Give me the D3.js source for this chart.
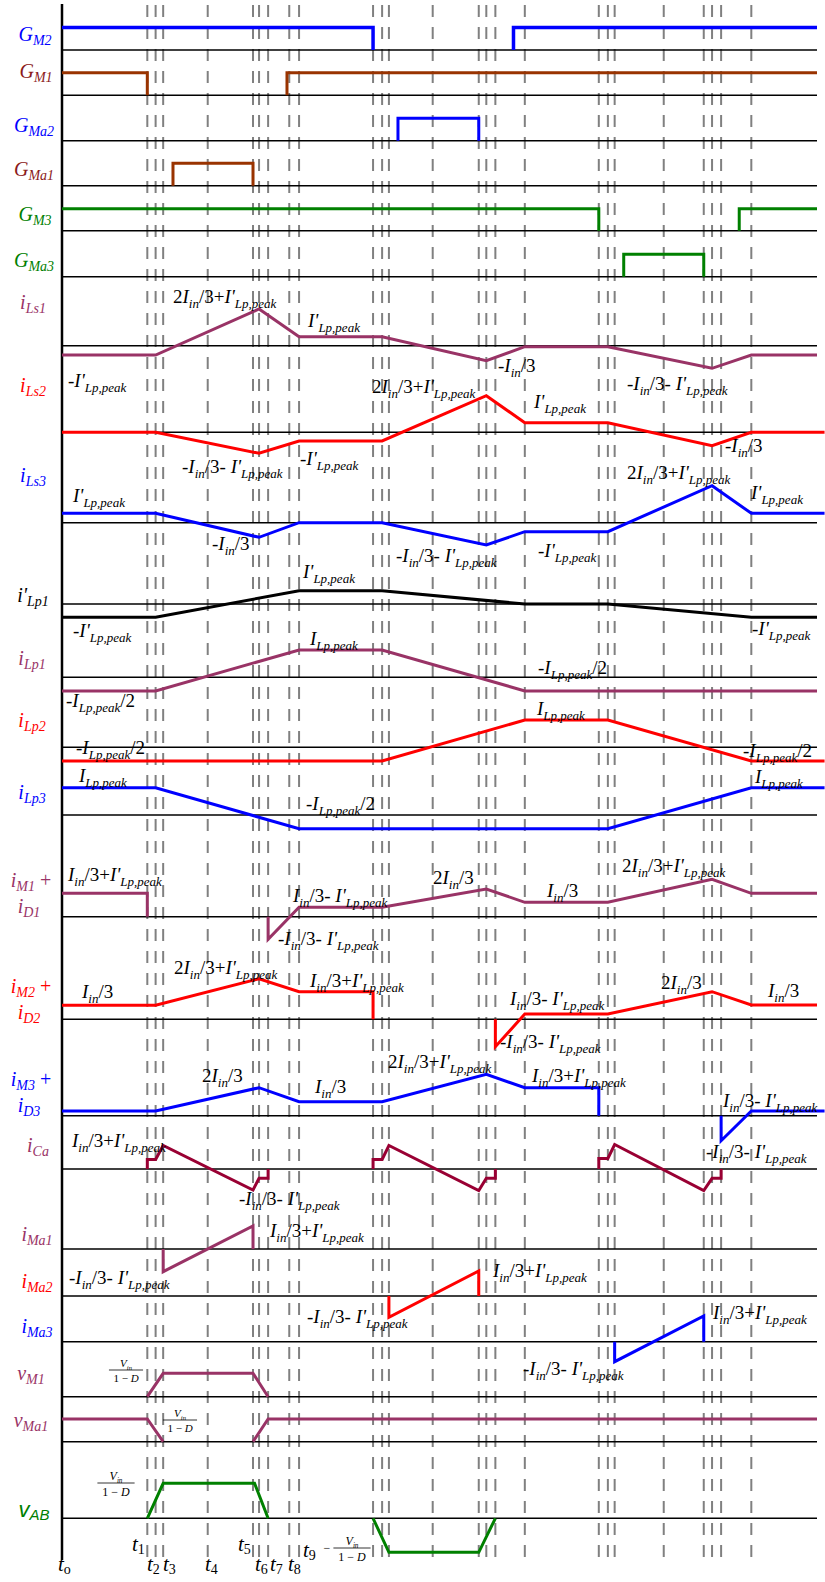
<!DOCTYPE html>
<html>
<head>
<meta charset="utf-8">
<script src="https://cdnjs.cloudflare.com/ajax/libs/d3/7.8.5/d3.min.js"></script>
<style>
  body { margin: 0; background: #fff; }
  svg { display: block; }
  text { white-space: pre; }
</style>
</head>
<body>
<svg id="chart" width="825" height="1582"></svg>
<script>
// time axis runs 0..100 (one switching period + a bit), values are in arbitrary units

// switching instants (dashed guides)
var tEvents = [11.3, 12.4, 13.4, 19.3, 25.3, 26.1, 27.3, 30.1, 31.4, 41.2, 42.4, 43.3,
               49.1, 55.2, 56.2, 57.4, 61.3, 71.1, 72.3, 73.2, 79.7, 85.0, 86.1, 87.3, 91.3];

// gate signals (1 = on)
var gM2  = [[0,1],[41.2,1],[41.2,0],null,[59.8,0],[59.8,1],[100,1]];
var gM1  = [[0,1],[11.3,1],[11.3,0],null,[29.8,0],[29.8,1],[100,1]];
var gMa2 = [[44.5,0],[44.5,1],[55.2,1],[55.2,0]];
var gMa1 = [[14.7,0],[14.7,1],[25.3,1],[25.3,0]];
var gM3  = [[0,1],[71.1,1],[71.1,0],null,[89.7,0],[89.7,1],[100,1]];
var gMa3 = [[74.4,0],[74.4,1],[85.0,1],[85.0,0]];

// currents
var iLs1 = [[0,-0.93],[12.4,-0.93],[26.1,3.67],[31.4,0.9],[42.4,0.9],[56.2,-1.5],[61.3,-0.1],[72.3,-0.1],[86.1,-2.26],[91.3,-0.93],[100,-0.93]];
var iLs2 = [[0,0],[12.4,0],[26.1,-2.1],[31.4,-0.87],[42.4,-0.87],[56.2,3.66],[61.3,0.96],[72.3,0.96],[86.1,-1.34],[91.3,0],[101,0]];
var iLs3 = [[0,0.94],[12.4,0.94],[26.1,-1.46],[31.4,0],[42.4,0],[56.2,-2.23],[61.3,-0.9],[72.3,-0.9],[86.1,3.7],[91.3,0.94],[101,0.94]];
var iLp1p = [[0,-1.33],[12.4,-1.33],[31.4,1.33],[42.4,1.33],[61.3,0],[72.3,0],[91.3,-1.33],[100,-1.33]];
var iLp1 = [[0,-1.36],[12.4,-1.36],[31.4,2.73],[42.4,2.73],[61.3,-1.36],[100,-1.36]];
var iLp2 = [[0,-1.36],[42.4,-1.36],[61.3,2.73],[72.3,2.73],[91.3,-1.36],[101,-1.36]];
var iLp3 = [[0,2.73],[12.4,2.73],[31.4,-1.37],[72.3,-1.37],[91.3,2.73],[101,2.73]];
var iM1D1 = [[0,2.34],[11.3,2.34],[11.3,0],null,[27.3,0],[27.3,-2.26],[31.4,0.94],[42.4,0.94],[56.2,2.77],[61.3,1.44],[72.3,1.44],[86.1,3.74],[91.3,2.34],[100,2.34]];
var iM2D2 = [[0,1.4],[12.4,1.4],[26.1,4.06],[31.4,2.76],[41.2,2.76],[41.2,0],null,[57.4,0],[57.4,-2.74],[61.3,0.53],[72.3,0.53],[86.1,2.76],[91.3,1.43],[100,1.43]];
var iM3D3 = [[0,0.47],[12.4,0.47],[26.1,2.8],[31.4,1.4],[42.4,1.4],[56.2,4.14],[61.3,2.8],[71.1,2.8],[71.1,0],null,[87.3,0],[87.3,-2.5],[91.3,0.47],[101,0.47]];
var iCa = [[11.3,0],[11.3,0.95],[12.4,0.95],[13.4,2.35],[25.3,-2.1],[26.1,-0.93],[27.3,-0.93],[27.3,0],null,
           [41.2,0],[41.2,0.95],[42.4,0.95],[43.3,2.35],[55.2,-2.15],[56.2,-0.93],[57.4,-0.93],[57.4,0],null,
           [71.1,0],[71.1,1.05],[72.3,1.05],[73.2,2.45],[85.0,-2.15],[86.1,-0.93],[87.3,-0.93],[87.3,0]];
var iMa1 = [[13.4,0],[13.4,-2.27],[25.3,2.3],[25.3,0]];
var iMa2 = [[43.3,0],[43.3,-2.13],[55.2,2.5],[55.2,0]];
var iMa3 = [[73.2,0],[73.2,-2.0],[85.0,2.57],[85.0,0]];

// voltages
var vM1  = [[11.3,0],[13.4,2.34],[25.3,2.34],[27.3,0]];
var vMa1 = [[0,2.27],[11.3,2.27],[13.4,0],null,[25.3,0],[27.3,2.27],[100,2.27]];
var vAB  = [[11.3,0],[13.4,3.5],[25.5,3.5],[27.3,0],null,[41.2,0],[43.3,-3.4],[55.2,-3.4],[57.4,0]];

// time tick labels
var tLabels = ["o","1","2","3","4","5","6","7","8","9"];

// ---- layout ----
var svg = d3.select("#chart");
svg.append("rect").attr("width", 825).attr("height", 1582).attr("fill", "#fff");

var x = d3.scaleLinear().domain([0, 100]).range([62, 817]);

var purple = "#993366", red = "#ff0000", blue = "#0000ff", green = "#008000",
    brown = "#993300", crimson = "#990033", dred = "#8b1a1a";

var rows = [
  {data: gM2,  base: 50,    unit: 22.5, color: blue,  w: 3.5},
  {data: gM1,  base: 95.3,  unit: 22.5, color: brown, w: 3},
  {data: gMa2, base: 140.7, unit: 22.5, color: blue,  w: 3},
  {data: gMa1, base: 185.7, unit: 22.5, color: brown, w: 3},
  {data: gM3,  base: 230.7, unit: 22,   color: green, w: 3},
  {data: gMa3, base: 276.7, unit: 22.5, color: green, w: 3},
  {data: iLs1, base: 345.7, unit: 10, color: purple, w: 3},
  {data: iLs2, base: 432.3, unit: 10, color: red,    w: 3},
  {data: iLs3, base: 522.7, unit: 10, color: blue,   w: 3},
  {data: iLp1p,base: 604,   unit: 10, color: "#000", w: 3},
  {data: iLp1, base: 677.3, unit: 10, color: purple, w: 3},
  {data: iLp2, base: 747.3, unit: 10, color: red,    w: 3},
  {data: iLp3, base: 815,   unit: 10, color: blue,   w: 3},
  {data: iM1D1,base: 916.7, unit: 10, color: purple, w: 3},
  {data: iM2D2,base: 1019.3,unit: 10, color: red,    w: 3},
  {data: iM3D3,base: 1115.7,unit: 10, color: blue,   w: 3},
  {data: iCa,  base: 1169,  unit: 10, color: crimson,w: 3},
  {data: iMa1, base: 1249,  unit: 10, color: purple, w: 3},
  {data: iMa2, base: 1296,  unit: 10, color: red,    w: 3},
  {data: iMa3, base: 1341.7,unit: 10, color: blue,   w: 3},
  {data: vM1,  base: 1396.7,unit: 10, color: purple, w: 3},
  {data: vMa1, base: 1441.7,unit: 10, color: purple, w: 3},
  {data: vAB,  base: 1518.3,unit: 10, color: green,  w: 3}
];

// dashed guides
svg.append("g").selectAll("line").data(tEvents).enter().append("line")
  .attr("x1", function(d) { return x(d); }).attr("x2", function(d) { return x(d); })
  .attr("y1", 5).attr("y2", 1562)
  .attr("stroke", "#808080").attr("stroke-width", 2)
  .attr("stroke-dasharray", "12,10");

// baselines
svg.append("g").selectAll("line").data(rows).enter().append("line")
  .attr("x1", 61).attr("x2", x(100))
  .attr("y1", function(d) { return d.base; }).attr("y2", function(d) { return d.base; })
  .attr("stroke", "#000").attr("stroke-width", 1.6);

// vertical axis
svg.append("line").attr("x1", 62).attr("x2", 62).attr("y1", 4).attr("y2", 1560)
  .attr("stroke", "#000").attr("stroke-width", 2.5);

// waveforms
rows.forEach(function(r) {
  var y = d3.scaleLinear().domain([0, 1]).range([r.base, r.base - r.unit]);
  var line = d3.line().defined(function(d) { return d != null; })
    .x(function(d) { return x(d[0]); }).y(function(d) { return y(d[1]); });
  svg.append("path").datum(r.data).attr("d", line)
    .attr("fill", "none").attr("stroke", r.color).attr("stroke-width", r.w);
});

// rich text: "_{...}" = subscript, letters italic
var serif = "'Liberation Serif','Times New Roman',serif";
function rich(str, px, py, opt) {
  opt = opt || {};
  var size = opt.size || 18, sub = opt.sub || size * 0.68,
      shift = opt.shift != null ? opt.shift : size * 0.26;
  var t = svg.append("text").attr("x", px).attr("y", py)
    .attr("fill", opt.color || "#000").attr("font-family", opt.font || serif)
    .attr("font-size", size).attr("text-anchor", opt.anchor || "start");
  var down = false, last = 0, m, re = /_\{([^}]*)\}/g;
  function main(s) {
    s.split(/([A-Za-z']+)/).forEach(function(p) {
      if (!p) return;
      var ts = t.append("tspan").text(p)
        .attr("font-style", /[A-Za-z']/.test(p) && opt.italic !== false ? "italic" : "normal");
      if (down) { ts.attr("dy", -shift); down = false; }
    });
  }
  while ((m = re.exec(str))) {
    main(str.slice(last, m.index));
    var ts = t.append("tspan").text(m[1]).attr("font-size", sub)
      .attr("font-style", opt.subItalic === false ? "normal" : "italic");
    if (!down) ts.attr("dy", shift);
    down = true;
    last = re.lastIndex;
  }
  main(str.slice(last));
  return t;
}

// channel names
var names = [
  ["G_{M2}", 35, 41, blue], ["G_{M1}", 36, 78, dred], ["G_{Ma2}", 34, 132, blue],
  ["G_{Ma1}", 34, 176, dred], ["G_{M3}", 35, 221, green], ["G_{Ma3}", 34, 267, green],
  ["i_{Ls1}", 33, 309, purple], ["i_{Ls2}", 33, 392, red], ["i_{Ls3}", 33, 482, blue],
  ["i'_{Lp1}", 33, 602, "#000"], ["i_{Lp1}", 32, 665, purple], ["i_{Lp2}", 32, 727, red],
  ["i_{Lp3}", 32, 799, blue],
  ["i_{M1} +", 31, 887, purple], ["i_{D1}", 29, 913, purple],
  ["i_{M2} +", 31, 993, red], ["i_{D2}", 29, 1019, red],
  ["i_{M3} +", 31, 1086, blue], ["i_{D3}", 29, 1112, blue],
  ["i_{Ca}", 38, 1152, purple], ["i_{Ma1}", 37, 1241, purple], ["i_{Ma2}", 37, 1288, red],
  ["i_{Ma3}", 37, 1333, blue], ["v_{M1}", 31, 1380, purple], ["v_{Ma1}", 31, 1427, purple]
];
names.forEach(function(n) {
  rich(n[0], n[1], n[2], {size: 20, sub: 14, color: n[3], anchor: "middle", shift: 4});
});
rich("v_{AB}", 34, 1517, {size: 22, sub: 15, color: green, anchor: "middle", shift: 3,
  font: "'Liberation Sans',Arial,sans-serif"});

// annotations
var notes = [
  [173, 303, "2I_{in}/3+I'_{Lp,peak}"], [308, 327, "I'_{Lp,peak}"], [68, 387, "-I'_{Lp,peak}"],
  [372, 393, "2I_{in}/3+I'_{Lp,peak}"], [498, 372, "-I_{in}/3"], [627, 390, "-I_{in}/3- I'_{Lp,peak}"],
  [534, 408, "I'_{Lp,peak}"], [182, 473, "-I_{in}/3- I'_{Lp,peak}"], [300, 465, "-I'_{Lp,peak}"],
  [725, 452, "-I_{in}/3"], [73, 502, "I'_{Lp,peak}"], [212, 550, "-I_{in}/3"],
  [396, 562, "-I_{in}/3- I'_{Lp,peak}"], [538, 557, "-I'_{Lp,peak}"],
  [627, 479, "2I_{in}/3+I'_{Lp,peak}"], [751, 499, "I'_{Lp,peak}"],
  [303, 578, "I'_{Lp,peak}"], [73, 637, "-I'_{Lp,peak}"], [752, 635, "-I'_{Lp,peak}"],
  [310, 645, "I_{Lp,peak}"], [66, 707, "-I_{Lp,peak}/2"], [538, 674, "-I_{Lp,peak}/2"],
  [76, 754, "-I_{Lp,peak}/2"], [537, 715, "I_{Lp,peak}"], [743, 757, "-I_{Lp,peak}/2"],
  [79, 782, "I_{Lp,peak}"], [306, 810, "-I_{Lp,peak}/2"], [755, 783, "I_{Lp,peak}"],
  [68, 881, "I_{in}/3+I'_{Lp,peak}"], [293, 902, "I_{in}/3- I'_{Lp,peak}"],
  [278, 945, "-I_{in}/3- I'_{Lp,peak}"], [433, 884, "2I_{in}/3"], [547, 897, "I_{in}/3"],
  [622, 872, "2I_{in}/3+I'_{Lp,peak}"],
  [82, 998, "I_{in}/3"], [174, 974, "2I_{in}/3+I'_{Lp,peak}"], [310, 987, "I_{in}/3+I'_{Lp,peak}"],
  [510, 1005, "I_{in}/3- I'_{Lp,peak}"], [500, 1048, "-I_{in}/3- I'_{Lp,peak}"],
  [661, 989, "2I_{in}/3"], [768, 997, "I_{in}/3"],
  [202, 1082, "2I_{in}/3"], [315, 1093, "I_{in}/3"], [388, 1068, "2I_{in}/3+I'_{Lp,peak}"],
  [532, 1082, "I_{in}/3+I'_{Lp,peak}"], [723, 1107, "I_{in}/3- I'_{Lp,peak}"],
  [706, 1158, "-I_{in}/3- I'_{Lp,peak}"],
  [72, 1147, "I_{in}/3+I'_{Lp,peak}"], [239, 1205, "-I_{in}/3- I'_{Lp,peak}"],
  [270, 1237, "I_{in}/3+I'_{Lp,peak}"], [69, 1284, "-I_{in}/3- I'_{Lp,peak}"],
  [307, 1323, "-I_{in}/3- I'_{Lp,peak}"], [493, 1277, "I_{in}/3+I'_{Lp,peak}"],
  [713, 1319, "I_{in}/3+I'_{Lp,peak}"], [523, 1375, "-I_{in}/3- I'_{Lp,peak}"]
];
notes.forEach(function(n) { rich(n[2], n[0], n[1], {size: 19, sub: 13, shift: 5}); });

// Vin/(1-D) fractions
function frac(cx, by, size, neg) {
  var w = size * 3.1;
  rich("V_{in}", cx, by - 3, {size: size, sub: size * 0.6, anchor: "middle"});
  svg.append("line").attr("x1", cx - w / 2).attr("x2", cx + w / 2)
    .attr("y1", by).attr("y2", by).attr("stroke", "#000").attr("stroke-width", 0.8);
  rich("1 \u2212 D", cx, by + size + 0.5, {size: size, anchor: "middle"});
  if (neg) rich("\u2212", cx - w / 2 - 3, by + 4, {size: size, anchor: "end"});
}
frac(126, 1370, 11, false);
frac(180, 1420, 11, false);
frac(116, 1483, 12, false);
frac(352, 1548, 12, true);

// time labels
var tPos = [[58,1571],[132,1551],[147,1571],[163,1571],[205,1571],[238,1551],[255,1571],[270,1571],[288,1571],[303,1557]];
tLabels.forEach(function(s, i) {
  rich("t_{" + s + "}", tPos[i][0], tPos[i][1], {size: 21, sub: 14, subItalic: false, shift: 3});
});
</script>
</body>
</html>
